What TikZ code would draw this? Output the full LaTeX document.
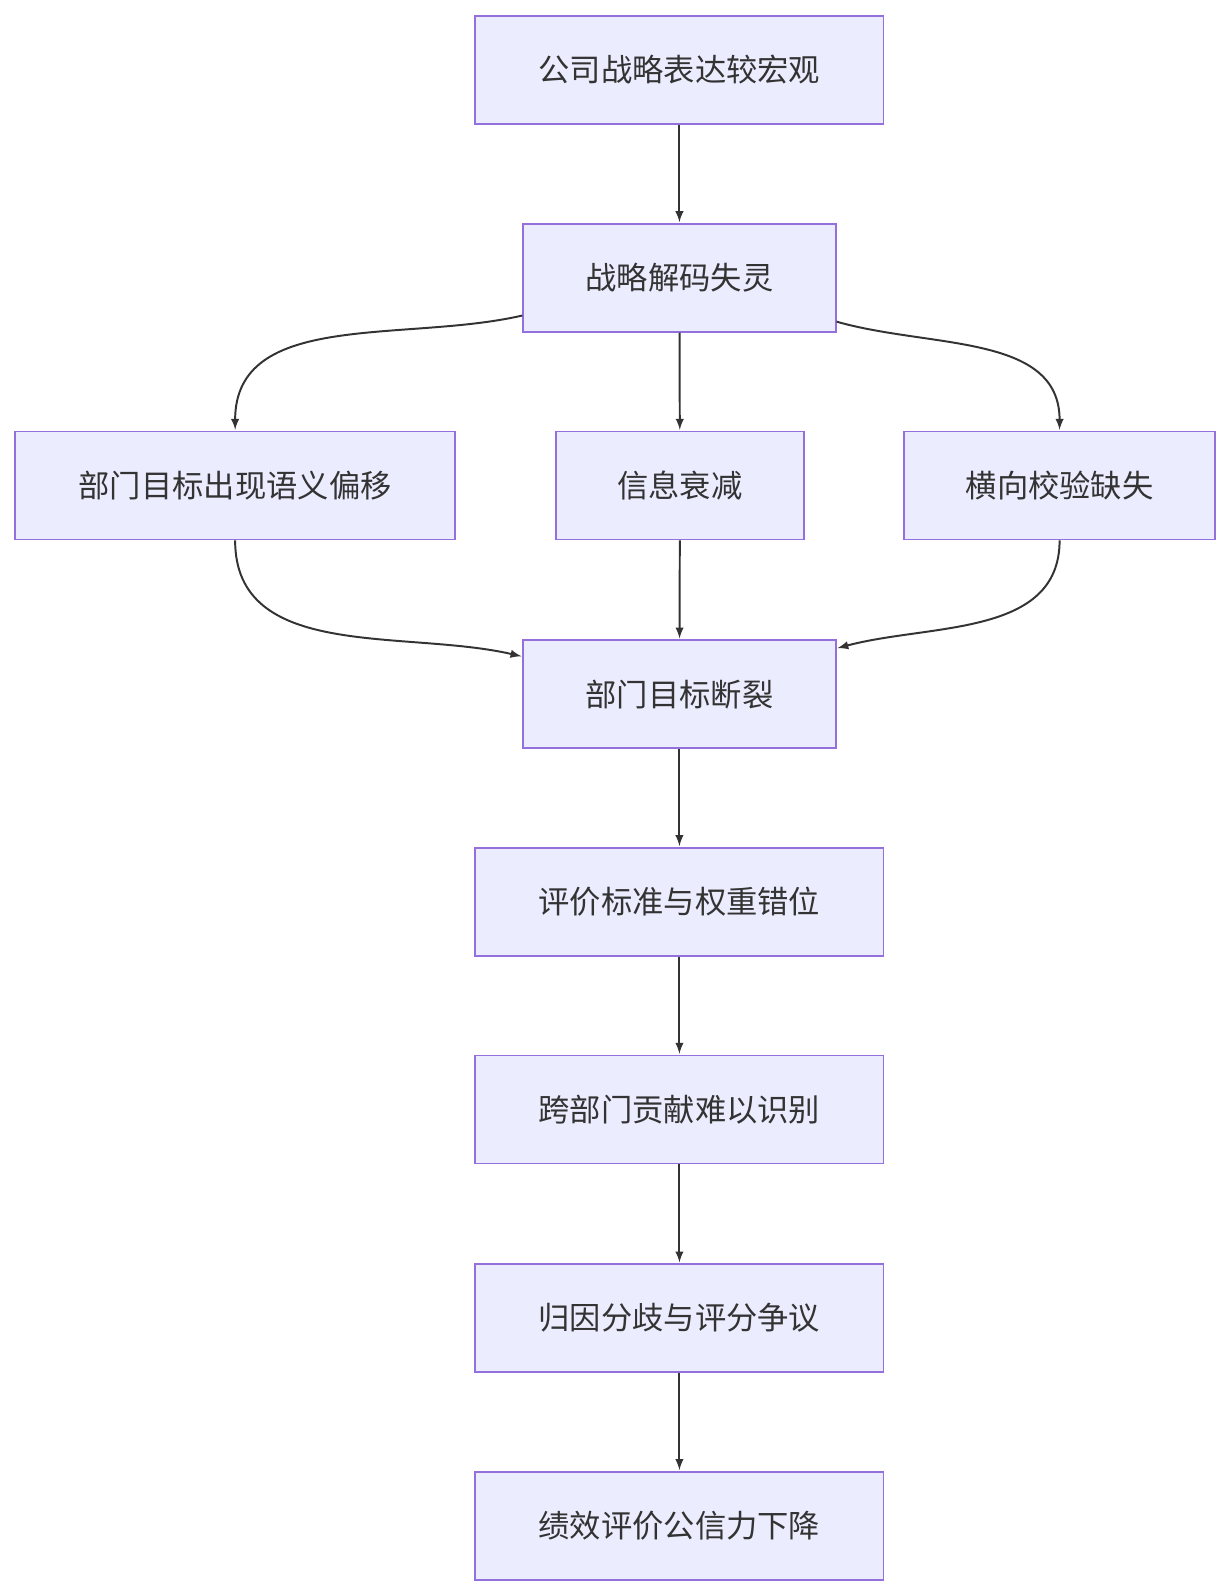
\documentclass[tikz,border=0pt]{standalone}
\usepackage{fontspec}
\setmainfont{Noto Sans CJK SC}
\usepackage{tikz}
\usetikzlibrary{arrows}
\definecolor{boxfill}{HTML}{ECECFF}
\definecolor{boxline}{HTML}{9370DB}
\definecolor{ink}{HTML}{333333}

\begin{document}
\begin{tikzpicture}[x=0.02cm,y=-0.02cm,>=latex,
      box/.style={rectangle,draw=boxline,fill=boxfill,line width=1pt,
        minimum height=2.12cm,text=ink,font=\fontsize{17.5}{21}\selectfont},
      flow/.style={->,draw=ink,line width=1.1pt,shorten >=0.5pt}]

      \useasboundingbox (0,0) rectangle (1210,1568);

      \node[box,minimum width=8.02cm] (top) at (667.5,68.5) {公司战略表达较宏观};
      \node[box,minimum width=6.14cm] (decode) at (667.5,273) {战略解码失灵};
      \node[box,minimum width=8.64cm] (drift) at (231,477) {部门目标出现语义偏移};
      \node[box,minimum width=4.88cm] (decay) at (668,477) {信息衰减};
      \node[box,minimum width=6.12cm] (check) at (1041,477) {横向校验缺失};
      \node[box,minimum width=6.14cm] (break) at (667.5,682) {部门目标断裂};
      \node[box,minimum width=8.02cm] (weight) at (667.5,886) {评价标准与权重错位};
      \node[box,minimum width=8.02cm] (cross) at (667.5,1090) {跨部门贡献难以识别};
      \node[box,minimum width=8.02cm] (blame) at (667.5,1295) {归因分歧与评分争议};
      \node[box,minimum width=8.02cm] (trust) at (667.5,1499) {绩效评价公信力下降};

      \draw[flow] (top) -- (decode);
      \draw[flow] ([yshift=-0.74cm]decode.west) to[out=-167,in=90] (drift.north);
      \draw[flow] (decode) -- (decay);
      \draw[flow] ([yshift=-0.86cm]decode.east) to[out=-16,in=90] (check.north);
      \draw[flow] (drift.south) to[out=-90,in=167] ([yshift=0.74cm]break.west);
      \draw[flow] (decay) -- (break);
      \draw[flow] (check.south) to[out=-90,in=15] ([yshift=0.9cm]break.east);
      \draw[flow] (break) -- (weight);
      \draw[flow] (weight) -- (cross);
      \draw[flow] (cross) -- (blame);
      \draw[flow] (blame) -- (trust);
    \end{tikzpicture}
\end{document}
